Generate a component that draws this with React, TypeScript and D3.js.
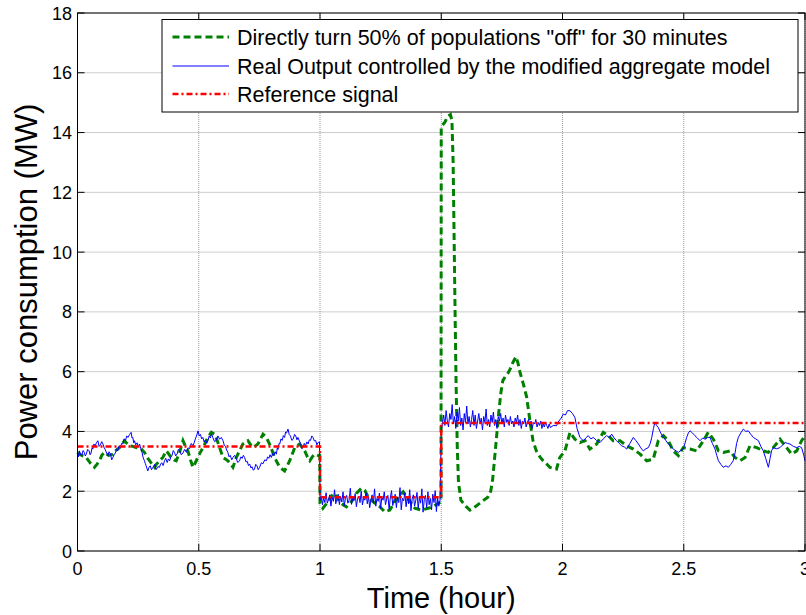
import React from "react";
import * as d3 from "d3";

// ---------- data ----------
const xTicks = [0, 0.5, 1, 1.5, 2, 2.5, 3];
const yTicks = [0, 2, 4, 6, 8, 10, 12, 14, 16, 18];

const legendLabels = [
  'Directly turn 50% of populations "off" for 30 minutes',
  "Real Output controlled by the modified aggregate model",
  "Reference signal",
];

// reference signal (hour, MW)
const refTimes = [0, 1, 1, 1.5, 1.5, 3];
const refValues = [3.5, 3.5, 1.8, 1.8, 4.28, 4.28];

// direct switching (green) [hour, MW]
const greenData: [number, number][] = [
  [0, 3.3], [0.008, 3.24], [0.022, 3.18], [0.036, 3.13], [0.052, 2.95], [0.07, 2.8], [0.08, 2.9], [0.091, 3.02],
  [0.1, 3.2], [0.111, 3.3], [0.128, 3.2], [0.146, 3.24], [0.16, 3.38], [0.173, 3.46], [0.185, 3.6],
  [0.194, 3.69], [0.204, 3.6], [0.214, 3.52], [0.228, 3.5], [0.242, 3.46], [0.252, 3.44], [0.263, 3.41],
  [0.276, 3.3], [0.288, 3.12], [0.297, 3.02], [0.308, 2.9], [0.318, 2.8], [0.325, 2.9], [0.332, 2.96],
  [0.342, 3.05], [0.352, 3.13], [0.366, 3.35], [0.376, 3.25], [0.386, 3.13], [0.398, 3.05], [0.407, 3.02],
  [0.421, 3.3], [0.428, 3.5], [0.435, 3.69], [0.445, 3.5], [0.455, 3.35], [0.466, 3.05], [0.476, 2.8],
  [0.49, 3.02], [0.5, 3.2], [0.51, 3.35], [0.52, 3.5], [0.531, 3.69], [0.542, 3.85], [0.552, 3.97],
  [0.565, 3.91], [0.576, 3.7], [0.586, 3.46], [0.6, 3.13], [0.61, 3.08], [0.62, 3.02], [0.632, 2.9],
  [0.641, 2.8], [0.655, 3.13], [0.668, 3.35], [0.682, 3.58], [0.703, 3.69], [0.714, 3.55], [0.724, 3.46],
  [0.744, 3.58], [0.755, 3.75], [0.765, 3.91], [0.779, 3.8], [0.792, 3.58], [0.803, 3.35], [0.813, 3.13],
  [0.824, 2.95], [0.834, 2.8], [0.854, 2.68], [0.865, 2.85], [0.875, 3.02], [0.886, 3.25], [0.896, 3.46],
  [0.916, 3.58], [0.937, 3.35], [0.948, 3.15], [0.958, 3.02], [0.968, 3.15], [0.978, 3.24], [0.99, 3.2],
  [0.999, 3.19], [1.0, 1.59], [1.012, 1.43], [1.033, 1.65], [1.054, 1.93], [1.068, 1.82], [1.081, 1.65],
  [1.095, 1.55], [1.109, 1.48], [1.13, 1.65], [1.15, 1.93], [1.171, 2.1], [1.185, 2.02], [1.198, 1.82],
  [1.219, 1.65], [1.247, 1.48], [1.267, 1.31], [1.288, 1.37], [1.308, 1.65], [1.329, 1.87], [1.343, 1.98],
  [1.356, 1.82], [1.377, 1.59], [1.391, 1.43], [1.418, 1.37], [1.446, 1.43], [1.466, 1.48], [1.487, 1.59],
  [1.499, 1.65], [1.5, 14.2], [1.515, 14.35], [1.527, 14.55], [1.538, 14.6], [1.544, 14.4], [1.549, 13.0],
  [1.553, 10.5], [1.557, 8.0], [1.561, 5.7], [1.566, 3.5], [1.571, 2.3], [1.581, 1.7], [1.601, 1.5],
  [1.618, 1.37], [1.643, 1.5], [1.667, 1.65], [1.692, 1.8], [1.704, 2.0], [1.712, 2.4], [1.72, 3.1],
  [1.729, 3.9], [1.738, 4.7], [1.746, 5.3], [1.754, 5.7], [1.765, 5.85], [1.775, 5.95], [1.785, 6.1],
  [1.795, 6.3], [1.808, 6.5], [1.816, 6.3], [1.824, 6.0], [1.838, 5.6], [1.852, 5.16], [1.865, 4.4],
  [1.878, 3.7], [1.892, 3.35], [1.907, 3.15], [1.922, 3.0], [1.936, 2.9], [1.948, 2.8], [1.96, 2.77],
  [1.975, 2.74], [1.989, 3.13], [2.01, 3.35], [2.031, 3.97], [2.051, 3.74], [2.072, 3.63], [2.093, 3.69],
  [2.113, 3.41], [2.141, 3.58], [2.168, 3.97], [2.189, 3.86], [2.209, 3.69], [2.237, 3.69], [2.265, 3.52],
  [2.292, 3.41], [2.32, 3.24], [2.347, 3.02], [2.374, 3.07], [2.395, 3.69], [2.416, 3.86], [2.436, 3.69],
  [2.457, 3.35], [2.478, 3.19], [2.498, 3.46], [2.526, 3.41], [2.553, 3.35], [2.581, 3.69], [2.601, 3.97],
  [2.622, 3.74], [2.643, 3.35], [2.663, 3.3], [2.691, 3.35], [2.711, 3.13], [2.732, 3.02], [2.753, 3.13],
  [2.773, 3.52], [2.801, 3.46], [2.828, 3.35], [2.849, 3.3], [2.869, 3.46], [2.897, 3.74], [2.924, 3.46],
  [2.945, 3.24], [2.966, 3.35], [2.986, 3.69], [3.0, 3.86],
];

// controlled output (blue), before the event [hour, MW]
const blueBefore: [number, number][] = [
  [0, 3.3], [0.004, 3.15], [0.008, 3.35], [0.013, 3.22], [0.018, 3.2], [0.023, 3.36], [0.028, 3.3],
  [0.032, 3.18], [0.036, 3.24], [0.042, 3.4], [0.048, 3.35], [0.052, 3.22], [0.056, 3.28], [0.06, 3.45],
  [0.063, 3.41], [0.068, 3.58], [0.072, 3.5], [0.078, 3.62], [0.084, 3.69], [0.089, 3.5], [0.094, 3.55],
  [0.1, 3.66], [0.105, 3.58], [0.11, 3.45], [0.114, 3.4], [0.12, 3.28], [0.125, 3.19], [0.13, 3.32],
  [0.136, 3.25], [0.141, 3.05], [0.146, 3.13], [0.151, 3.22], [0.156, 3.28], [0.161, 3.4], [0.166, 3.35],
  [0.171, 3.5], [0.176, 3.45], [0.182, 3.6], [0.187, 3.58], [0.192, 3.75], [0.198, 3.7], [0.203, 3.85],
  [0.208, 3.8], [0.215, 3.9], [0.221, 3.97], [0.225, 3.78], [0.228, 3.8], [0.232, 3.62], [0.235, 3.69],
  [0.24, 3.55], [0.246, 3.62], [0.251, 3.48], [0.256, 3.58], [0.261, 3.42], [0.266, 3.3], [0.271, 3.12],
  [0.276, 3.02], [0.28, 2.92], [0.283, 2.85], [0.287, 2.75], [0.29, 2.68], [0.295, 2.8], [0.3, 2.85],
  [0.305, 2.72], [0.311, 2.8], [0.318, 2.9], [0.324, 2.72], [0.331, 2.82], [0.338, 2.8], [0.343, 2.92],
  [0.348, 2.95], [0.353, 2.86], [0.359, 3.02], [0.364, 3.1], [0.37, 2.96], [0.375, 3.08], [0.38, 3.02],
  [0.385, 3.15], [0.39, 3.2], [0.395, 3.36], [0.4, 3.3], [0.405, 3.18], [0.411, 3.25], [0.416, 3.4],
  [0.421, 3.35], [0.428, 3.22], [0.435, 3.28], [0.442, 3.4], [0.449, 3.3], [0.455, 3.45], [0.462, 3.42],
  [0.469, 3.6], [0.476, 3.52], [0.481, 3.62], [0.486, 3.75], [0.492, 3.88], [0.497, 4.02], [0.502, 3.85],
  [0.507, 3.9], [0.512, 3.75], [0.517, 3.8], [0.522, 3.65], [0.528, 3.72], [0.533, 3.6], [0.538, 3.69],
  [0.543, 3.85], [0.548, 3.78], [0.553, 3.92], [0.558, 3.8], [0.565, 3.66], [0.572, 3.7], [0.579, 3.85],
  [0.586, 3.74], [0.593, 3.8], [0.6, 3.69], [0.605, 3.55], [0.61, 3.5], [0.615, 3.38], [0.62, 3.3],
  [0.625, 3.15], [0.63, 3.2], [0.636, 3.05], [0.641, 3.13], [0.648, 3.2], [0.655, 3.08], [0.661, 2.96],
  [0.668, 3.02], [0.674, 3.15], [0.679, 3.1], [0.684, 3.2], [0.689, 3.13], [0.695, 2.98], [0.7, 3.0],
  [0.705, 2.86], [0.71, 2.91], [0.715, 2.78], [0.72, 2.82], [0.725, 2.7], [0.73, 2.74], [0.735, 2.9],
  [0.74, 2.85], [0.745, 2.72], [0.751, 2.8], [0.758, 2.95], [0.765, 2.92], [0.772, 3.05], [0.779, 3.02],
  [0.784, 3.15], [0.789, 3.1], [0.794, 3.22], [0.799, 3.13], [0.805, 3.26], [0.81, 3.2], [0.815, 3.32],
  [0.82, 3.24], [0.824, 3.45], [0.827, 3.4], [0.831, 3.6], [0.834, 3.58], [0.839, 3.75], [0.844, 3.7],
  [0.849, 3.86], [0.854, 3.8], [0.858, 3.98], [0.862, 3.95], [0.868, 4.08], [0.873, 3.9], [0.878, 3.85],
  [0.884, 3.7], [0.889, 3.74], [0.895, 3.9], [0.9, 3.85], [0.905, 3.72], [0.909, 3.8], [0.915, 3.68],
  [0.92, 3.6], [0.925, 3.42], [0.93, 3.46], [0.935, 3.6], [0.94, 3.52], [0.946, 3.65], [0.951, 3.58],
  [0.956, 3.72], [0.961, 3.7], [0.966, 3.85], [0.971, 3.8], [0.977, 3.68], [0.982, 3.7], [0.987, 3.55],
  [0.992, 3.63], [0.998, 3.65],
];

// controlled output (blue), during the "off" hour: from 1.0 h, one value every 0.005 h
const blueLowStart = 1.0;
const blueLowValues = [
  1.7, 1.85, 1.55, 1.78, 1.62, 1.95, 1.6, 1.72, 1.88, 1.5, 1.8, 1.66, 2.05, 1.58, 1.74, 1.9, 1.55, 1.82, 1.64, 1.98,
  1.52, 1.76, 1.86, 1.6, 1.7, 2.1, 1.56, 1.8, 1.68, 1.92, 1.48, 1.75, 1.84, 1.62, 2.0, 1.54, 1.78, 1.7, 1.95, 1.58,
  1.82, 1.45, 1.72, 1.88, 1.6, 2.08, 1.5, 1.76, 1.66, 1.94, 1.42, 1.8, 1.7, 1.98, 1.55, 1.74, 1.86, 1.4, 1.78, 2.02,
  1.52, 1.7, 1.9, 1.45, 1.8, 1.62, 2.12, 1.38, 1.76, 1.68, 1.95, 1.48, 1.82, 1.58, 2.05, 1.35, 1.74, 1.88, 1.5, 1.7,
  1.96, 1.42, 1.8, 1.6, 2.08, 1.3, 1.72, 1.86, 1.45, 1.98, 1.55, 1.76, 1.38, 1.9, 1.62, 2.02, 1.32, 1.78, 1.5, 1.7,
];

// controlled output (blue), after the event: from 1.5 h, one value every 0.005 h
const blueHighStart = 1.5;
const blueHighValues = [
  4.0, 4.3, 4.55, 4.2, 4.7, 4.35, 4.15, 4.6, 4.4, 4.9, 4.25, 4.5, 4.1, 4.65, 4.35, 4.8, 4.2, 4.45, 4.05, 4.6,
  4.3, 4.85, 4.25, 4.5, 4.15, 4.4, 4.7, 4.2, 4.55, 4.1, 4.35, 4.6, 4.25, 4.45, 4.05, 4.5, 4.3, 4.75, 4.2, 4.4,
  4.15, 4.55, 4.3, 4.65, 4.2, 4.4, 4.1, 4.5, 4.35, 4.6, 4.25, 4.45, 4.15, 4.55, 4.3, 4.4, 4.2, 4.5, 4.25, 4.35,
  4.15, 4.45, 4.3, 4.55, 4.2, 4.4, 4.1, 4.35, 4.25, 4.45, 4.15, 4.3, 4.4, 4.2, 4.35, 4.1, 4.3, 4.25, 4.4, 4.15,
  4.3, 4.2, 4.35, 4.1, 4.25, 4.15, 4.3, 4.2, 4.1, 4.25,
];

// controlled output (blue), late part [hour, MW]
const blueAfter: [number, number][] = [
  [1.95, 4.13], [1.962, 4.2], [1.975, 4.19], [1.985, 4.35], [1.995, 4.45], [2.003, 4.58], [2.012, 4.55],
  [2.021, 4.7], [2.031, 4.69], [2.041, 4.6], [2.051, 4.47], [2.06, 4.1], [2.072, 3.8], [2.086, 3.69],
  [2.096, 3.78], [2.106, 3.86], [2.117, 3.75], [2.127, 3.8], [2.14, 3.7], [2.155, 3.63], [2.168, 3.75],
  [2.182, 3.86], [2.193, 3.8], [2.203, 3.91], [2.213, 3.78], [2.223, 3.69], [2.234, 3.6], [2.244, 3.52],
  [2.255, 3.48], [2.265, 3.41], [2.278, 3.6], [2.292, 3.8], [2.302, 3.7], [2.313, 3.58], [2.323, 3.45],
  [2.333, 3.35], [2.344, 3.42], [2.354, 3.46], [2.362, 3.6], [2.368, 3.8], [2.375, 4.1], [2.381, 4.3],
  [2.388, 4.2], [2.395, 4.13], [2.405, 3.95], [2.416, 3.8], [2.426, 3.7], [2.436, 3.58], [2.446, 3.5],
  [2.457, 3.41], [2.468, 3.35], [2.478, 3.3], [2.488, 3.36], [2.498, 3.41], [2.505, 3.6], [2.512, 3.8],
  [2.519, 3.95], [2.526, 4.02], [2.536, 3.95], [2.546, 3.86], [2.556, 3.78], [2.567, 3.69], [2.578, 3.78],
  [2.588, 3.74], [2.598, 3.8], [2.608, 3.8], [2.618, 3.6], [2.629, 3.41], [2.636, 3.2], [2.643, 3.02],
  [2.653, 2.9], [2.663, 2.8], [2.674, 2.85], [2.684, 2.8], [2.694, 2.9], [2.704, 3.02], [2.712, 3.3],
  [2.718, 3.6], [2.725, 3.8], [2.735, 3.95], [2.746, 4.08], [2.756, 4.0], [2.766, 4.02], [2.777, 3.9],
  [2.787, 3.8], [2.797, 3.75], [2.808, 3.69], [2.818, 3.5], [2.828, 3.35], [2.838, 3.1], [2.849, 2.8],
  [2.856, 3.1], [2.862, 3.35], [2.869, 3.46], [2.883, 3.42], [2.897, 3.46], [2.908, 3.55], [2.918, 3.63],
  [2.928, 3.6], [2.938, 3.58], [2.952, 3.5], [2.966, 3.46], [2.976, 3.5], [2.986, 3.46], [2.995, 3.2],
  [3.0, 3.02],
];

// ---------- layout ----------
const W = 806;
const H = 615;
const left = 77.5;
const right = 805;
const top = 13;
const bottom = 551;

export default function App() {
  const x = d3.scaleLinear().domain([0, 3]).range([left, right]);
  const y = d3.scaleLinear().domain([0, 18]).range([bottom, top]);
  const line = d3
    .line<[number, number]>()
    .x((d) => x(d[0]))
    .y((d) => y(d[1]));

  const blueData: [number, number][] = [
    ...blueBefore,
    ...blueLowValues.map((v, i) => [blueLowStart + i * 0.005, v] as [number, number]),
    ...blueHighValues.map((v, i) => [blueHighStart + i * 0.005, v] as [number, number]),
    ...blueAfter,
  ];
  const refData: [number, number][] = refTimes.map((t, i) => [t, refValues[i]]);

  const font = "Arial, 'Liberation Sans', Helvetica, sans-serif";
  const tickLen = 7;

  const legendX = 162;
  const legendY = 19.5;
  const legendW = 636;
  const legendH = 92.5;
  const rowY = [37, 66, 94];
  const legendStyles = [
    { stroke: "#008000", width: 3, dash: "7,4" },
    { stroke: "#0000ff", width: 1, dash: "" },
    { stroke: "#ff0000", width: 2.5, dash: "6,3,2,3" },
  ];

  return (
    <svg
      width={W}
      height={H}
      style={{ position: "absolute", left: 0, top: 0, background: "#fff" }}
      fontFamily={font}
    >
      <rect x={0} y={0} width={W} height={H} fill="#fff" />
      {/* grid */}
      <g stroke="#9a9a9a" strokeWidth={1} strokeDasharray="1,1">
        {xTicks.map((t) => (
          <line key={"gx" + t} x1={x(t)} x2={x(t)} y1={top} y2={bottom} />
        ))}
        {yTicks.map((t) => (
          <line key={"gy" + t} x1={left} x2={right} y1={y(t)} y2={y(t)} />
        ))}
      </g>
      {/* ticks */}
      <g stroke="#000" strokeWidth={1}>
        {xTicks.map((t) => (
          <g key={"tx" + t}>
            <line x1={x(t)} x2={x(t)} y1={bottom} y2={bottom - tickLen} />
            <line x1={x(t)} x2={x(t)} y1={top} y2={top + tickLen} />
          </g>
        ))}
        {yTicks.map((t) => (
          <g key={"ty" + t}>
            <line x1={left} x2={left + tickLen} y1={y(t)} y2={y(t)} />
            <line x1={right} x2={right - tickLen} y1={y(t)} y2={y(t)} />
          </g>
        ))}
      </g>
      {/* series */}
      <path d={line(greenData) || ""} fill="none" stroke="#008000" strokeWidth={3} strokeDasharray="7,4" />
      <path d={line(blueData) || ""} fill="none" stroke="#0000ff" strokeWidth={1} />
      <path d={line(refData) || ""} fill="none" stroke="#ff0000" strokeWidth={2.5} strokeDasharray="6,3,2,3" />
      {/* axes box */}
      <rect x={left} y={top} width={right - left} height={bottom - top} fill="none" stroke="#000" strokeWidth={1} />
      {/* tick labels */}
      <g fontSize={18} fill="#000">
        {xTicks.map((t) => (
          <text key={"lx" + t} x={x(t)} y={575} textAnchor="middle">
            {d3.format("~g")(t)}
          </text>
        ))}
        {yTicks.map((t) => (
          <text key={"ly" + t} x={72} y={y(t) + 6.5} textAnchor="end">
            {t}
          </text>
        ))}
      </g>
      {/* axis labels */}
      <text x={(left + right) / 2} y={608} textAnchor="middle" fontSize={29}>
        Time (hour)
      </text>
      <text
        transform={`translate(37,${(top + bottom) / 2}) rotate(-90)`}
        textAnchor="middle"
        fontSize={31}
      >
        Power consumption (MW)
      </text>
      {/* legend */}
      <g>
        <rect x={legendX} y={legendY} width={legendW} height={legendH} fill="#fff" stroke="#000" strokeWidth={1} />
        {legendLabels.map((lab, i) => (
          <g key={lab}>
            <line
              x1={172.5}
              x2={229}
              y1={rowY[i]}
              y2={rowY[i]}
              stroke={legendStyles[i].stroke}
              strokeWidth={legendStyles[i].width}
              strokeDasharray={legendStyles[i].dash}
            />
            <text x={237} y={rowY[i] + 7.5} fontSize={21.5} fill="#000">
              {lab}
            </text>
          </g>
        ))}
      </g>
    </svg>
  );
}
